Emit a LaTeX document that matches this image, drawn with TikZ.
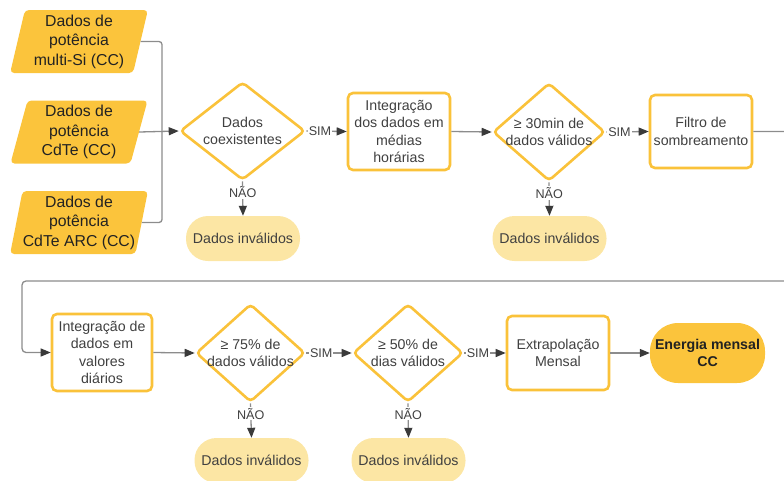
\documentclass[tikz,border=0pt]{standalone}
\usepackage{fontspec}
\setmainfont{Liberation Sans}
\usetikzlibrary{shapes.geometric,arrows.meta}
\definecolor{yB}{HTML}{FAC23A}
\definecolor{paraF}{HTML}{FBC43C}
\definecolor{lightF}{HTML}{FCE6A4}
\definecolor{lineC}{HTML}{8C8C8C}
\definecolor{arrC}{HTML}{3A3A3A}
\definecolor{txtC}{HTML}{404040}
\definecolor{paraT}{HTML}{222222}
\begin{document}
\begin{tikzpicture}[x=1pt,y=-1pt,
  para/.style={trapezium, trapezium left angle=77, trapezium right angle=103, trapezium stretches=true,
    minimum width=138pt, minimum height=63pt, fill=paraF, rounded corners=4pt, inner sep=0pt,
    text=paraT, font=\fontsize{15.8}{19.5}\selectfont, align=center},
  box/.style={draw=yB, line width=2.6pt, rounded corners=5pt, fill=white, inner sep=0pt,
    align=center, text=txtC, font=\fontsize{14.2}{17.6}\selectfont},
  dia/.style={diamond, draw=yB, line width=2.6pt, rounded corners=4pt, fill=white, inner sep=0pt,
    minimum height=98pt},
  dtxt/.style={align=center, text=txtC, font=\fontsize{14.2}{17.6}\selectfont},
  term/.style={fill=lightF, rounded corners=22pt, minimum width=114pt, minimum height=45pt,
    inner sep=0pt, text=txtC, font=\fontsize{14.2}{17.6}\selectfont},
  fin/.style={fill=paraF, rounded corners=28pt, minimum width=115pt, minimum height=60pt,
    inner sep=0pt, align=center, text=paraT, font=\fontsize{14.2}{17.6}\selectfont\bfseries},
  conn/.style={draw=lineC, line width=1.3pt},
  arr/.style={conn, -{Triangle[length=10pt,width=8pt,color=arrC]}},
  lab/.style={fill=white, inner sep=1pt, text=txtC, font=\fontsize{12.6}{14}\selectfont},
]
\useasboundingbox (0,0) rectangle (784,480);
\clip (0,0) rectangle (784,480);

% inputs
\node[para] (p1) at (79,41.5) {Dados de\\potência\\multi-Si (CC)};
\node[para] (p2) at (79,132) {Dados de\\potência\\CdTe (CC)};
\node[para] (p3) at (79,222.5) {Dados de\\potência\\CdTe ARC (CC)};

% row 1
\node[dia, minimum width=125pt] (d1) at (242.5,131) {};
\node[dtxt] at (d1) {Dados\\coexistentes};
\node[box, minimum width=102pt, minimum height=77pt] (b2) at (399,131.5) {Integração\\dos dados em\\médias\\horárias};
\node[dia, minimum width=112pt] (d2) at (549,132) {};
\node[dtxt] at (d2) {≥ 30min de\\dados válidos};
\node[box, minimum width=102pt, minimum height=73pt] (b3) at (701,131.5) {Filtro de\\sombreamento};
\node[term] (t1) at (243,238.5) {Dados inválidos};
\node[term] (t2) at (549.5,238.5) {Dados inválidos};

% row 2
\node[box, minimum width=100pt, minimum height=77pt] (b4) at (102,352.5) {Integração de\\dados em\\valores\\diários};
\node[dia, minimum width=109pt] (d3) at (250.5,353) {};
\node[dtxt] at (d3) {≥ 75\% de\\dados válidos};
\node[dia, minimum width=110pt] (d4) at (408,353) {};
\node[dtxt] at (d4) {≥ 50\% de\\dias válidos};
\node[box, minimum width=102pt, minimum height=74pt] (b5) at (558,353) {Extrapolação\\Mensal};
\node[fin] (f) at (707.5,353) {Energia mensal\\CC};
\node[term] (t3) at (251.5,460.5) {Dados inválidos};
\node[term] (t4) at (408.5,460.5) {Dados inválidos};

% connectors
\coordinate (j) at (162,132);
\draw[conn, rounded corners=3pt] (p1.east) -| (j);
\draw[conn, rounded corners=3pt] (p3.east) -| (j);
\draw[arr] (p2.east) -- (d1.west);

\draw[arr] (d1.east) -- node[lab, pos=0.34]{SIM} (b2.west);
\draw[arr] (b2.east) -- (d2.west);
\draw[arr] (d2.east) -- node[lab, pos=0.31]{SIM} (b3.west);
\draw[arr] (d1.south) -- node[lab, pos=0.32]{NÃO} (t1.north);
\draw[arr] (d2.south) -- node[lab, pos=0.32]{NÃO} (t2.north);

\draw[arr, rounded corners=4pt] (b3.east) -- (800,131.5) -- (800,281) -- (22,281) -- (22,352.5) -- (b4.west);

\draw[arr] (b4.east) -- (d3.west);
\draw[arr] (d3.east) -- node[lab, pos=0.33]{SIM} (d4.west);
\draw[arr] (d4.east) -- node[lab, pos=0.33]{SIM} (b5.west);
\draw[arr] (b5.east) -- (f.west);
\draw[arr] (d3.south) -- node[lab, pos=0.3]{NÃO} (t3.north);
\draw[arr] (d4.south) -- node[lab, pos=0.3]{NÃO} (t4.north);
\end{tikzpicture}
\end{document}
